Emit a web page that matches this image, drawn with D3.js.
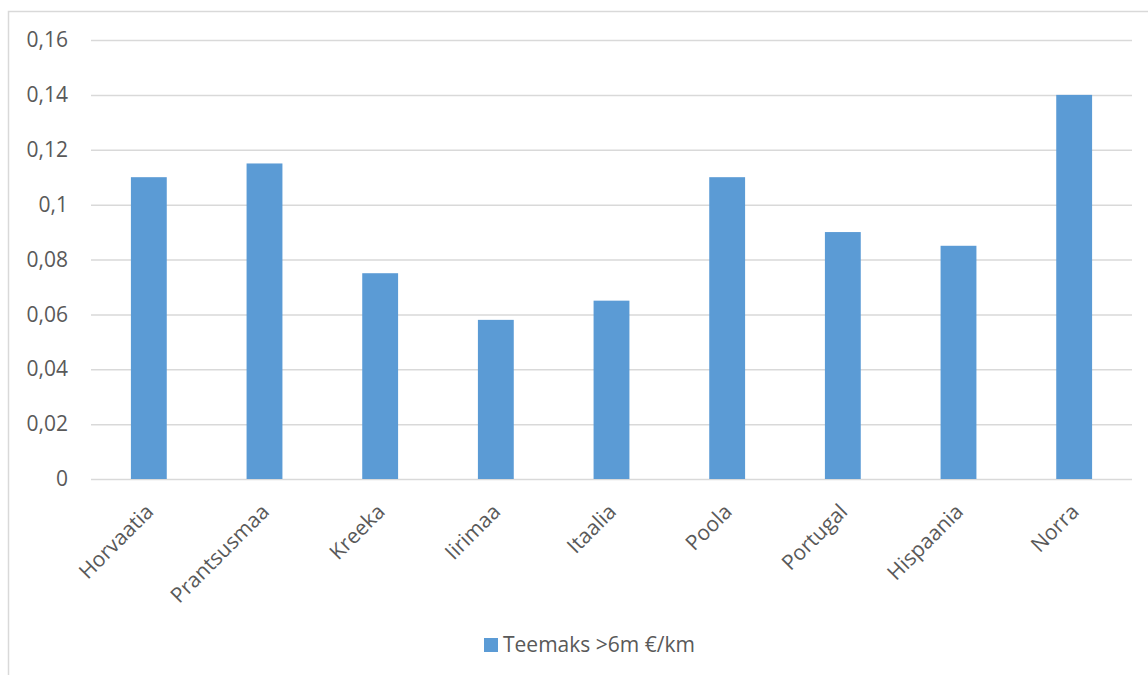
<!DOCTYPE html>
<html>
<head>
<meta charset="utf-8">
<script src="https://cdn.jsdelivr.net/npm/d3@7"></script>
<style>
  body { margin: 0; background: #fff; }
  text { font-family: 'Open Sans', sans-serif; fill: #595959; }
</style>
</head>
<body>
<div id="chart"></div>
<script>
const countries = ['Horvaatia', 'Prantsusmaa', 'Kreeka', 'Iirimaa', 'Itaalia', 'Poola', 'Portugal', 'Hispaania', 'Norra']
const teemaks = [0.11, 0.115, 0.075, 0.058, 0.065, 0.11, 0.09, 0.085, 0.14]
const yTicks = [0, 0.02, 0.04, 0.06, 0.08, 0.1, 0.12, 0.14, 0.16]
const seriesName = 'Teemaks >6m €/km'

const W = 1148, H = 675
const margin = { top: 40, right: 16, bottom: 196, left: 91 }
const width = W - margin.left - margin.right
const height = H - margin.top - margin.bottom

const svg = d3.select('#chart')
    .append('svg')
        .attr('width', W)
        .attr('height', H)

// outer chart frame (cropped at right/bottom)
svg.append('rect')
    .attr('x', 8.5).attr('y', 11.5)
    .attr('width', W + 20).attr('height', H + 20)
    .attr('fill', 'none')
    .attr('stroke', '#d9d9d9')
    .attr('stroke-width', 1.5)

const canvas = svg.append('g')
    .attr('transform', `translate(${margin.left}, ${margin.top})`)

const x = d3.scaleBand()
    .domain(countries)
    .range([0, width])
    .paddingInner(0.69)
    .paddingOuter(0.345)

const y = d3.scaleLinear()
    .domain([0, 0.16])
    .range([height, 0])

const fmt = d => d3.format('~g')(d).replace('.', ',')

// gridlines + y labels
const yAxis = canvas.append('g')
    .call(d3.axisLeft(y).tickValues(yTicks).tickSize(-width).tickFormat(fmt).tickPadding(23))
yAxis.select('.domain').remove()
yAxis.selectAll('line').attr('stroke', '#d9d9d9').attr('stroke-width', 1.5)
yAxis.selectAll('text')
    .style('font-size', '21px')
    .attr('fill', '#595959')
    .attr('font-family', "'Open Sans', sans-serif")

canvas.selectAll('.bar')
    .data(teemaks)
    .enter()
    .append('rect')
        .attr('class', 'bar')
        .attr('x', (d, i) => x(countries[i]))
        .attr('y', d => y(d))
        .attr('width', x.bandwidth())
        .attr('height', d => height - y(d))
        .attr('fill', '#5b9bd5')

// category labels
canvas.selectAll('.cat')
    .data(countries)
    .enter()
    .append('text')
        .attr('class', 'cat')
        .attr('text-anchor', 'end')
        .attr('transform', d => `translate(${x(d) + x.bandwidth() / 2 + 6}, ${height + 34}) rotate(-45)`)
        .style('font-size', '21px')
        .text(d => d)

// legend
const legend = svg.append('g')
    .attr('transform', 'translate(484, 638)')
legend.append('rect')
    .attr('width', 14).attr('height', 14)
    .attr('fill', '#5b9bd5')
legend.append('text')
    .attr('x', 19).attr('y', 14)
    .style('font-size', '21px')
    .text(seriesName)
</script>
</body>
</html>
